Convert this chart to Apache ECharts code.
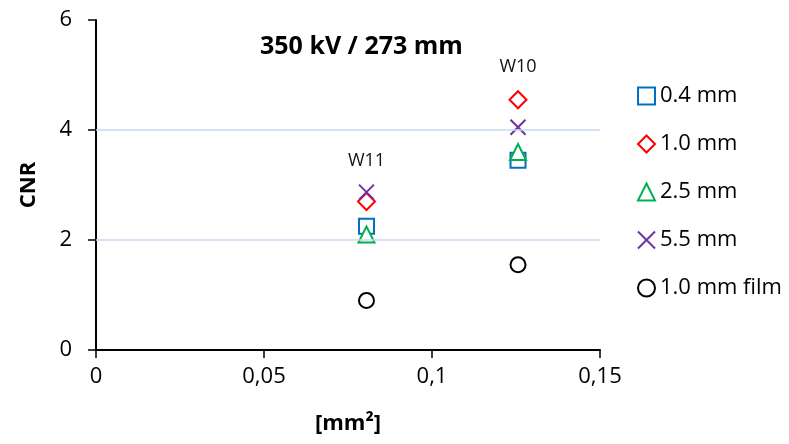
<!DOCTYPE html>
<html>
<head>
<meta charset="utf-8">
<script src="https://cdn.jsdelivr.net/npm/echarts@6/dist/echarts.min.js"></script>
<style>
  html, body { margin: 0; padding: 0; background: #fff; }
  #chart { width: 789px; height: 444px; }
</style>
</head>
<body>
<div id="chart"></div>
<script>
// sample areas [mm2] for the two wires
const xValues = [0.0805, 0.1256];
const pointNames = ["W11", "W10"];

const seriesNames = ["0.4 mm", "1.0 mm", "2.5 mm", "5.5 mm", "1.0 mm film"];
const cnr04 = [2.25, 3.45];
const cnr10 = [2.7, 4.55];
const cnr25 = [2.1, 3.6];
const cnr55 = [2.87, 4.05];
const cnrFilm = [0.9, 1.55];

const gridLines = [2, 4];

const font = "'Open Sans', sans-serif";
const allValues = [cnr04, cnr10, cnr25, cnr55, cnrFilm];
const symbols = [
  "emptyRect",
  "emptyDiamond",
  "emptyTriangle",
  "emptypath://M0,0L10,10M10,0L0,10",
  "emptyCircle"
];
const colors = ["#0070c0", "#ff0000", "#00b050", "#7030a0", "#000000"];
const sizes = [15, 17, 16, 15, 15];

// label each sample name above its highest point
function topIndex(i) {
  let best = 0;
  for (let s = 1; s < allValues.length; s++) {
    if (allValues[s][i] > allValues[best][i]) best = s;
  }
  return best;
}

const series = seriesNames.map(function (name, s) {
  return {
    name: name,
    type: "scatter",
    symbol: symbols[s],
    symbolSize: sizes[s],
    itemStyle: { color: colors[s], borderColor: colors[s], borderWidth: 2.8, opacity: 1 },
    data: xValues.map(function (x, i) {
      const item = { value: [x, allValues[s][i]], name: pointNames[i] };
      if (topIndex(i) === s) {
        item.label = {
          show: true,
          position: "top",
          distance: 14,
          formatter: "{b}",
          color: "#111",
          fontSize: 18,
          fontFamily: font
        };
      }
      return item;
    }),
    markLine: s === 0 ? {
      silent: true,
      symbol: "none",
      label: { show: false },
      lineStyle: { color: "#c6d9f1", width: 1.5, type: "solid" },
      data: gridLines.map(function (v) { return { yAxis: v }; })
    } : undefined,
    z: 3
  };
});

const mychart = echarts.init(document.getElementById("chart"));
mychart.setOption({
  animation: false,
  title: {
    text: "350 kV / 273 mm",
    left: 255,
    top: 29,
    textStyle: { fontSize: 25, fontWeight: "bold", color: "#000", fontFamily: font }
  },
  legend: {
    orient: "vertical",
    left: 632,
    top: 80,
    itemWidth: 17,
    itemHeight: 17,
    itemGap: 26,
    textStyle: { fontSize: 22, color: "#000", fontFamily: font },
    data: seriesNames
  },
  grid: { left: 96, right: 189, top: 20, bottom: 94, containLabel: false },
  xAxis: {
    type: "value",
    min: 0,
    max: 0.15,
    interval: 0.05,
    name: "[mm²]",
    nameLocation: "middle",
    nameGap: 63,
    nameTextStyle: { fontSize: 22, fontWeight: "bold", color: "#000", fontFamily: font },
    axisLine: { lineStyle: { color: "#000", width: 2 } },
    axisTick: { show: true, length: 8, lineStyle: { color: "#000", width: 1.5 } },
    axisLabel: {
      fontSize: 22,
      color: "#000",
      fontFamily: font,
      margin: 16,
      formatter: function (v) { return String(v).replace(".", ","); }
    },
    splitLine: { show: false }
  },
  yAxis: {
    type: "value",
    min: 0,
    max: 6,
    interval: 2,
    name: "CNR",
    nameLocation: "middle",
    nameGap: 56,
    nameRotate: 90,
    nameTextStyle: { fontSize: 22, fontWeight: "bold", color: "#000", fontFamily: font },
    axisLine: { show: true, lineStyle: { color: "#000", width: 2 } },
    axisTick: { show: true, length: 8, lineStyle: { color: "#000", width: 1.5 } },
    axisLabel: { fontSize: 22, color: "#000", fontFamily: font, margin: 24 },
    splitLine: { show: false }
  },
  series: series
});
</script>
</body>
</html>
